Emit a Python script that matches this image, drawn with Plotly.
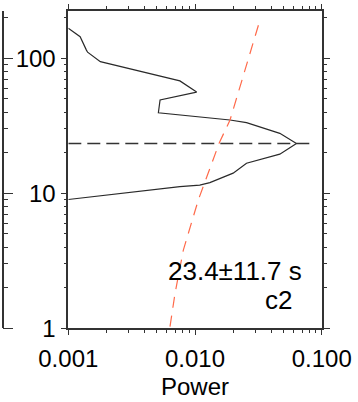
import plotly.graph_objects as go

# Global wavelet power spectrum of segment c2 (period in s vs. power)
gws_period = [167, 144.5, 115, 111, 94.4, 68, 56.2, 49.1, 39.5, 38.0, 34.9, 33.4,
              27.8, 23.4, 19.5, 16.7, 15.3, 14.1, 12.0, 11.5, 11.2, 9.0]
gws_power = [0.00100, 0.00124, 0.00139, 0.00142, 0.00179, 0.0076, 0.0103, 0.0053,
             0.00514, 0.0076, 0.0189, 0.0255, 0.0467, 0.0632, 0.0467, 0.0255,
             0.0226, 0.0200, 0.0131, 0.0109, 0.0076, 0.0010]

# 95% significance level (red-noise background)
sig_period = [1.03, 1.82, 3.80, 8.93, 23.7, 34.9, 183.6]
sig_power = [0.00635, 0.00696, 0.00809, 0.01062, 0.01556, 0.0189, 0.0321]

# Dominant period and its uncertainty
peak_period = 23.4
peak_error = 11.7
peak_line_power = [0.001, 0.083]
segment_label = "c2"

x_ticks = [0.001, 0.01, 0.1]
y_ticks = [1, 10, 100]

# minor ticks at 2..9 within each decade
x_minor = [m * d for d in (0.001, 0.01) for m in range(2, 10)]
y_minor = [m * d for d in (1, 10, 100) for m in range(2, 10)]

W, H = 358, 402
px_left, px_right = 68.3, 321.7
px_top, px_bottom = 10.7, 328.3

axis_color = "#333333"
font_family = "Liberation Sans, Arial, sans-serif"

fig = go.Figure()

fig.add_trace(go.Scatter(
    x=gws_power, y=gws_period, mode="lines",
    line=dict(color="#2a2a2a", width=1.2),
    xaxis="x", yaxis="y", showlegend=False, hoverinfo="skip"))

fig.add_trace(go.Scatter(
    x=sig_power, y=sig_period, mode="lines",
    line=dict(color="#ff6a4a", width=1.2, dash="11px,8px"),
    xaxis="x", yaxis="y", showlegend=False, hoverinfo="skip"))

fig.add_trace(go.Scatter(
    x=peak_line_power, y=[peak_period, peak_period], mode="lines",
    line=dict(color="#333333", width=1.4, dash="13px,6px"),
    xaxis="x", yaxis="y", showlegend=False, hoverinfo="skip"))

fig.update_layout(
    width=W, height=H,
    margin=dict(l=0, r=0, t=0, b=0),
    paper_bgcolor="white", plot_bgcolor="white",
    font=dict(family=font_family, size=24, color="black"),
    xaxis=dict(
        type="log", range=[-3, -1],
        domain=[px_left / W, px_right / W],
        anchor="y",
        tickmode="array", tickvals=x_ticks,
        ticktext=[f"{v:.3f}" for v in x_ticks],
        ticks="outside", ticklen=5, tickwidth=1.3, tickcolor=axis_color,
        minor=dict(tickmode="array", tickvals=x_minor, ticks="outside",
                   ticklen=3, tickwidth=1.1, tickcolor=axis_color,
                   showgrid=False),
        showline=True, linecolor=axis_color, linewidth=1.6, mirror="ticks",
        showgrid=False, zeroline=False,
        title=dict(text="Power", standoff=7, font=dict(size=24)),
        ticklabelstandoff=3,
        automargin=False,
    ),
    yaxis=dict(
        type="log", range=[0, 2.3526],
        domain=[1 - px_bottom / H, 1 - px_top / H],
        anchor="x",
        tickmode="array", tickvals=y_ticks,
        ticktext=[str(v) for v in y_ticks],
        ticks="outside", ticklen=6, tickwidth=1.3, tickcolor=axis_color,
        minor=dict(tickmode="array", tickvals=y_minor, ticks="outside",
                   ticklen=3, tickwidth=1.1, tickcolor=axis_color,
                   showgrid=False),
        showline=True, linecolor=axis_color, linewidth=1.6, mirror="ticks",
        showgrid=False, zeroline=False,
        automargin=False,
    ),
    # right-hand edge of the neighbouring panel (c1)
    xaxis2=dict(domain=[0, 1.5 / W], range=[0, 1], visible=False,
                anchor="y2"),
    yaxis2=dict(
        type="log", range=[0, 2.3526],
        domain=[1 - px_bottom / H, 1 - px_top / H],
        anchor="x2", side="right",
        tickmode="array", tickvals=y_ticks, showticklabels=False,
        ticks="outside", ticklen=10, tickwidth=1.3, tickcolor=axis_color,
        minor=dict(tickmode="array", tickvals=y_minor, ticks="outside",
                   ticklen=5, tickwidth=1.1, tickcolor=axis_color,
                   showgrid=False),
        showline=True, linecolor=axis_color, linewidth=1.6,
        showgrid=False, zeroline=False, automargin=False,
    ),
    annotations=[
        dict(text=f"{peak_period}\u00b1{peak_error} s", xref="paper", yref="paper",
             x=166.0 / W, y=1 - 271.0 / H, xanchor="left", yanchor="middle",
             showarrow=False, font=dict(size=26, color="black")),
        dict(text=segment_label, xref="paper", yref="paper",
             x=294.0 / W, y=1 - 299.5 / H, xanchor="right", yanchor="middle",
             showarrow=False, font=dict(size=26, color="black")),
    ],
)

# empty trace so the neighbouring axis pair is drawn
fig.add_trace(go.Scatter(x=[], y=[], xaxis="x2", yaxis="y2",
                         showlegend=False, hoverinfo="skip"))

fig.write_html("out.html")
